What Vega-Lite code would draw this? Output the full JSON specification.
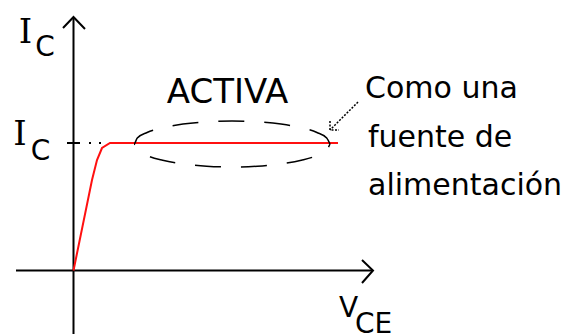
{
  "$schema": "https://vega.github.io/schema/vega-lite/v6.json",
  "width": 569,
  "height": 334,
  "autosize": {"type": "none"},
  "padding": 0,
  "background": "white",
  "config": {"view": {"stroke": null}},
  "resolve": {"scale": {"x": "shared", "y": "shared"}},
  "layer": [
    {
      "data": {"values": [
        {"part": "vaxis", "ord": 1, "x": 0, "y": 253.5},
        {"part": "vaxis", "ord": 2, "x": 0, "y": -63.5},
        {"part": "haxis", "ord": 1, "x": -57.5, "y": 0},
        {"part": "haxis", "ord": 2, "x": 299.5, "y": 0},
        {"part": "vhead", "ord": 1, "x": -10.5, "y": 242.5},
        {"part": "vhead", "ord": 2, "x": 0, "y": 253.5},
        {"part": "vhead", "ord": 3, "x": 11.5, "y": 241.5},
        {"part": "hhead", "ord": 1, "x": 288.5, "y": 10.5},
        {"part": "hhead", "ord": 2, "x": 299.5, "y": 0},
        {"part": "hhead", "ord": 3, "x": 288.5, "y": -12.5},
        {"part": "tick", "ord": 1, "x": -6.5, "y": 127.5},
        {"part": "tick", "ord": 2, "x": 6.5, "y": 127.5}
      ]},
      "mark": {"type": "line", "color": "black", "strokeWidth": 2},
      "encoding": {
        "x": {"field": "x", "type": "quantitative", "scale": {"domain": [-73.5, 495.5], "nice": false, "zero": false}, "axis": null},
        "y": {"field": "y", "type": "quantitative", "scale": {"domain": [-63.5, 270.5], "nice": false, "zero": false}, "axis": null},
        "detail": {"field": "part"},
        "order": {"field": "ord"}
      }
    },
    {
      "data": {"values": [
        {"ord": 1, "x": 0, "y": 0},
        {"ord": 2, "x": 18.5, "y": 90.5},
        {"ord": 3, "x": 23.5, "y": 110.5},
        {"ord": 4, "x": 28.5, "y": 122.5},
        {"ord": 5, "x": 36.5, "y": 127.5},
        {"ord": 6, "x": 264.5, "y": 127.5}
      ]},
      "mark": {"type": "line", "color": "#ff1010", "strokeWidth": 2},
      "encoding": {
        "x": {"field": "x", "type": "quantitative", "axis": null},
        "y": {"field": "y", "type": "quantitative", "axis": null},
        "order": {"field": "ord"}
      }
    },
    {
      "data": {"values": [
        {"ord": 1, "x": 256.5, "y": 126.5},
        {"ord": 2, "x": 253.2, "y": 132.5},
        {"ord": 3, "x": 243.4, "y": 138.0},
        {"ord": 4, "x": 227.8, "y": 142.8},
        {"ord": 5, "x": 207.5, "y": 146.4},
        {"ord": 6, "x": 183.9, "y": 148.7},
        {"ord": 7, "x": 158.5, "y": 149.5},
        {"ord": 8, "x": 133.1, "y": 148.7},
        {"ord": 9, "x": 109.5, "y": 146.4},
        {"ord": 10, "x": 89.2, "y": 142.8},
        {"ord": 11, "x": 73.6, "y": 138.0},
        {"ord": 12, "x": 63.8, "y": 132.5},
        {"ord": 13, "x": 60.5, "y": 126.5},
        {"ord": 14, "x": 63.8, "y": 120.5},
        {"ord": 15, "x": 73.6, "y": 115.0},
        {"ord": 16, "x": 89.2, "y": 110.2},
        {"ord": 17, "x": 109.5, "y": 106.6},
        {"ord": 18, "x": 133.1, "y": 104.3},
        {"ord": 19, "x": 158.5, "y": 103.5},
        {"ord": 20, "x": 183.9, "y": 104.3},
        {"ord": 21, "x": 207.5, "y": 106.6},
        {"ord": 22, "x": 227.8, "y": 110.2},
        {"ord": 23, "x": 243.4, "y": 115.0},
        {"ord": 24, "x": 253.2, "y": 120.5},
        {"ord": 25, "x": 256.5, "y": 126.5}
      ]},
      "mark": {"type": "line", "color": "black", "strokeWidth": 1.5, "strokeDash": [26, 20], "interpolate": "monotone"},
      "encoding": {
        "x": {"field": "x", "type": "quantitative", "axis": null},
        "y": {"field": "y", "type": "quantitative", "axis": null},
        "order": {"field": "ord"}
      }
    },
    {
      "data": {"values": [
        {"part": "shaft", "ord": 1, "x": 284.5, "y": 168.5},
        {"part": "shaft", "ord": 2, "x": 256.5, "y": 140.5},
        {"part": "head", "ord": 1, "x": 256.5, "y": 149.5},
        {"part": "head", "ord": 2, "x": 256.5, "y": 140.5},
        {"part": "head", "ord": 3, "x": 265.5, "y": 140.5}
      ]},
      "mark": {"type": "line", "color": "black", "strokeWidth": 1.5, "strokeDash": [2, 1.5]},
      "encoding": {
        "x": {"field": "x", "type": "quantitative", "axis": null},
        "y": {"field": "y", "type": "quantitative", "axis": null},
        "detail": {"field": "part"},
        "order": {"field": "ord"}
      }
    },
    {
      "data": {"values": [
        {"x": 16.5, "y": 127.5},
        {"x": 26.5, "y": 127.5}
      ]},
      "mark": {"type": "square", "color": "black", "size": 4, "opacity": 1},
      "encoding": {
        "x": {"field": "x", "type": "quantitative", "axis": null},
        "y": {"field": "y", "type": "quantitative", "axis": null}
      }
    },
    {
      "data": {"values": [
        {"t": "I", "x": -48, "y": 227.5},
        {"t": "I", "x": -53.5, "y": 125.5}
      ]},
      "mark": {"type": "text", "font": "DejaVu Serif", "fontSize": 34, "align": "center", "baseline": "alphabetic", "color": "black"},
      "encoding": {
        "x": {"field": "x", "type": "quantitative", "axis": null},
        "y": {"field": "y", "type": "quantitative", "axis": null},
        "text": {"field": "t"}
      }
    },
    {
      "data": {"values": [
        {"t": "C", "x": -28.5, "y": 214.5},
        {"t": "C", "x": -33, "y": 110.5},
        {"t": "CE", "x": 300, "y": -62.5},
        {"t": "V", "x": 275, "y": -46.5}
      ]},
      "mark": {"type": "text", "font": "DejaVu Sans", "fontSize": 28, "align": "center", "baseline": "alphabetic", "color": "black"},
      "encoding": {
        "x": {"field": "x", "type": "quantitative", "axis": null},
        "y": {"field": "y", "type": "quantitative", "axis": null},
        "text": {"field": "t"}
      }
    },
    {
      "data": {"values": [
        {"t": "ACTIVA", "x": 154, "y": 167.5}
      ]},
      "mark": {"type": "text", "font": "DejaVu Sans", "fontSize": 34, "align": "center", "baseline": "alphabetic", "color": "black"},
      "encoding": {
        "x": {"field": "x", "type": "quantitative", "axis": null},
        "y": {"field": "y", "type": "quantitative", "axis": null},
        "text": {"field": "t"}
      }
    },
    {
      "data": {"values": [
        {"t": "Como una", "x": 291.5, "y": 172.5},
        {"t": "fuente de", "x": 294.5, "y": 123.5},
        {"t": "alimentación", "x": 294.5, "y": 75.5}
      ]},
      "mark": {"type": "text", "font": "DejaVu Sans", "fontSize": 30, "align": "left", "baseline": "alphabetic", "color": "black"},
      "encoding": {
        "x": {"field": "x", "type": "quantitative", "axis": null},
        "y": {"field": "y", "type": "quantitative", "axis": null},
        "text": {"field": "t"}
      }
    }
  ]
}
